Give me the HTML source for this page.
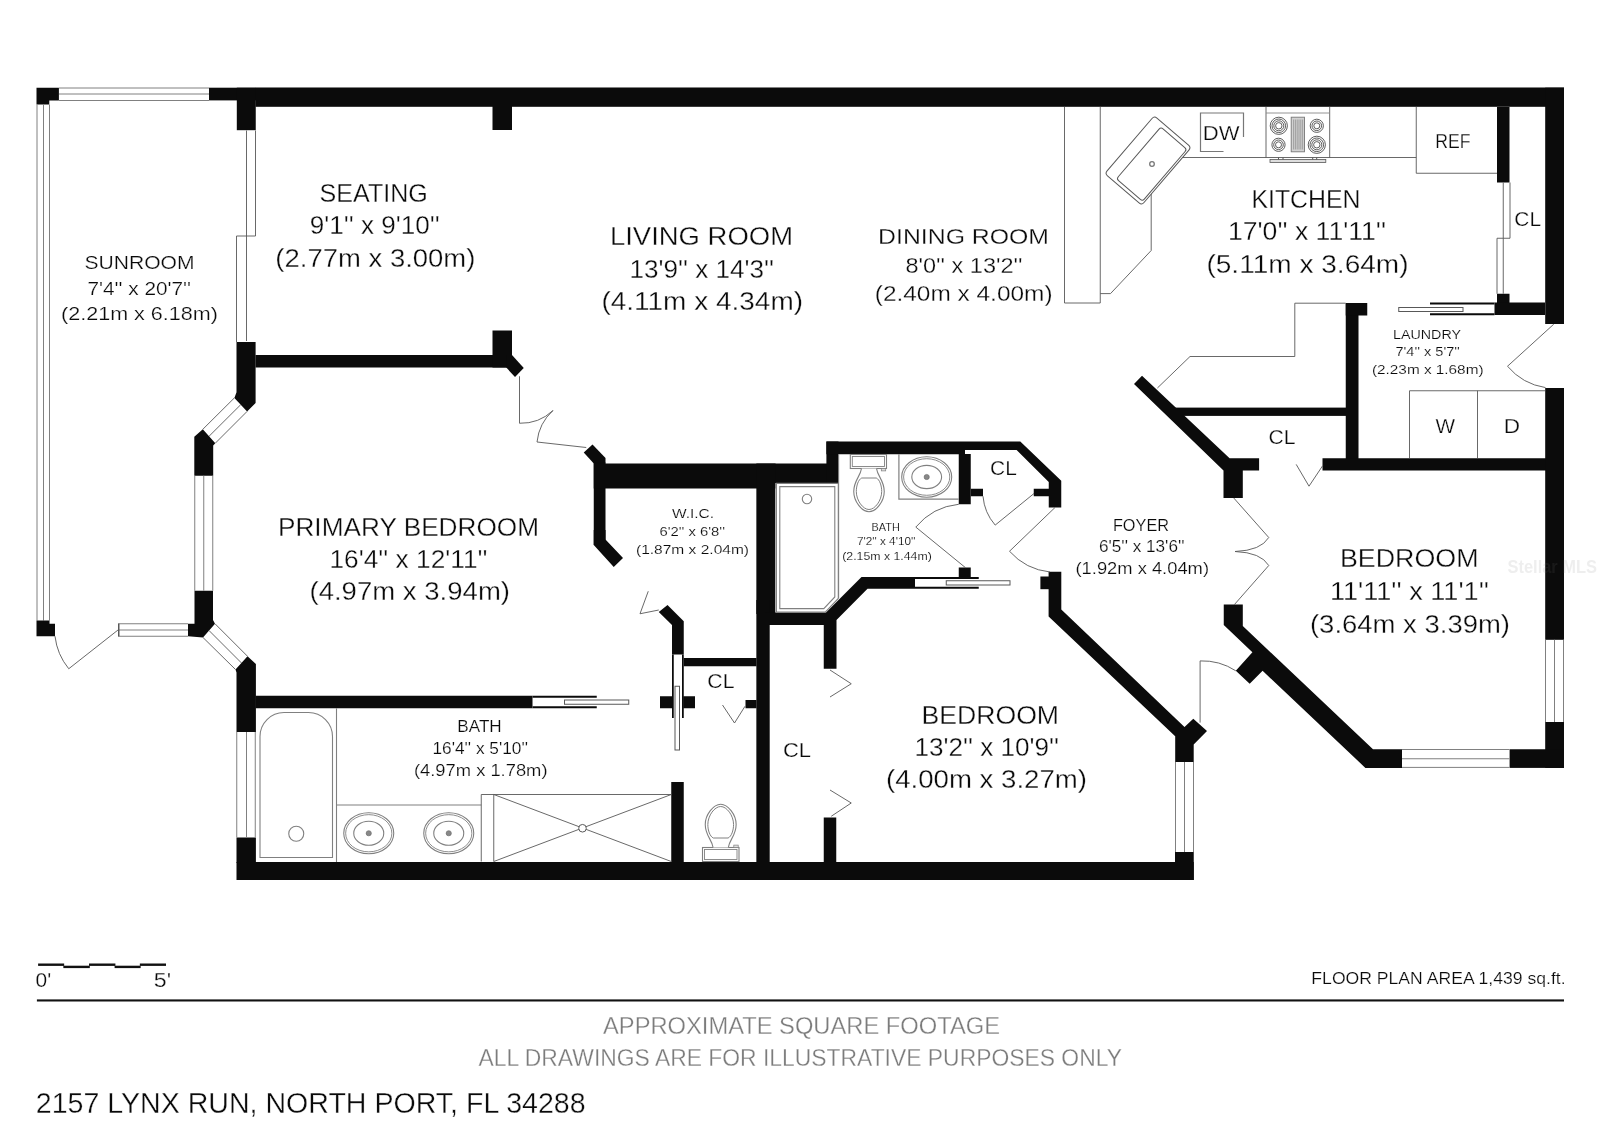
<!DOCTYPE html>
<html>
<head>
<meta charset="utf-8">
<title>Floor Plan - 2157 Lynx Run, North Port, FL 34288</title>
<style>
html, body { margin: 0; padding: 0; background: #fff; }
body { width: 1600px; height: 1130px; overflow: hidden; font-family: "Liberation Sans", sans-serif; }
svg { display: block; filter: grayscale(1); }
svg text { font-family: "Liberation Sans", sans-serif; }
</style>
</head>
<body>
<svg width="1600" height="1130" viewBox="0 0 1600 1130">
<rect x="0" y="0" width="1600" height="1130" fill="#ffffff"/>
<polygon points="36.50,87.70 58.90,87.70 58.90,100.50 49.30,100.50 49.30,104.50 36.50,104.50" fill="#0b0b0b" />
<line x1="59.00" y1="88.00" x2="209.00" y2="88.00" stroke="#808080" stroke-width="1"/>
<line x1="59.00" y1="94.00" x2="209.00" y2="94.00" stroke="#808080" stroke-width="1"/>
<line x1="59.00" y1="100.50" x2="209.00" y2="100.50" stroke="#808080" stroke-width="1"/>
<line x1="37.00" y1="104.50" x2="37.00" y2="620.50" stroke="#808080" stroke-width="1"/>
<line x1="43.50" y1="104.50" x2="43.50" y2="620.50" stroke="#808080" stroke-width="1"/>
<line x1="49.50" y1="104.50" x2="49.50" y2="620.50" stroke="#808080" stroke-width="1"/>
<polygon points="36.50,620.50 49.50,620.50 49.50,623.75 55.00,623.75 55.00,636.25 36.50,636.25" fill="#0b0b0b" />
<line x1="118.00" y1="623.75" x2="188.00" y2="623.75" stroke="#808080" stroke-width="1"/>
<line x1="118.00" y1="630.00" x2="188.00" y2="630.00" stroke="#808080" stroke-width="1"/>
<line x1="118.00" y1="636.25" x2="188.00" y2="636.25" stroke="#808080" stroke-width="1"/>
<rect x="118.00" y="623.75" width="1.50" height="12.50" fill="#585858" />
<line x1="118.00" y1="630.00" x2="68.75" y2="668.75" stroke="#585858" stroke-width="0.9"/>
<path d="M68.75,668.75 A62.67,62.67 0 0 1 55.00,636.25" fill="none" stroke="#585858" stroke-width="0.9"/>
<rect x="209.00" y="87.70" width="1355.00" height="12.70" fill="#0b0b0b" />
<rect x="236.80" y="87.70" width="18.95" height="42.50" fill="#0b0b0b" />
<rect x="255.50" y="87.70" width="1308.50" height="19.10" fill="#0b0b0b" />
<rect x="492.50" y="106.00" width="19.50" height="24.00" fill="#0b0b0b" />
<polyline points="246.50,130.50 246.50,341.00" fill="none" stroke="#585858" stroke-width="0.9" stroke-linejoin="miter"/>
<polyline points="255.50,130.50 255.50,236.00 246.50,236.00" fill="none" stroke="#585858" stroke-width="0.9" stroke-linejoin="miter"/>
<polyline points="246.50,236.00 236.50,236.00 236.50,342.00" fill="none" stroke="#585858" stroke-width="0.9" stroke-linejoin="miter"/>
<rect x="1545.20" y="87.70" width="18.80" height="236.30" fill="#0b0b0b" />
<rect x="1497.00" y="107.00" width="12.50" height="75.50" fill="#0b0b0b" />
<rect x="1497.00" y="293.75" width="12.50" height="10.25" fill="#0b0b0b" />
<rect x="1494.50" y="302.50" width="50.50" height="12.50" fill="#0b0b0b" />
<polyline points="1510.00,182.50 1510.00,238.25 1503.25,238.25" fill="none" stroke="#585858" stroke-width="0.9" stroke-linejoin="miter"/>
<polyline points="1503.25,182.50 1503.25,293.75" fill="none" stroke="#585858" stroke-width="0.9" stroke-linejoin="miter"/>
<polyline points="1503.25,238.25 1497.00,238.25 1497.00,293.75" fill="none" stroke="#585858" stroke-width="0.9" stroke-linejoin="miter"/>
<rect x="1430.00" y="302.50" width="64.50" height="2.00" fill="#0b0b0b" />
<rect x="1430.00" y="313.25" width="64.50" height="2.00" fill="#0b0b0b" />
<rect x="1398.75" y="307.50" width="64.25" height="4.00" fill="#fff" stroke="#585858" stroke-width="1"/>
<rect x="1345.75" y="303.00" width="12.75" height="167.00" fill="#0b0b0b" />
<rect x="1345.75" y="303.00" width="21.50" height="12.50" fill="#0b0b0b" />
<rect x="1322.50" y="458.25" width="241.50" height="12.25" fill="#0b0b0b" />
<rect x="1545.20" y="388.00" width="18.80" height="251.80" fill="#0b0b0b" />
<line x1="1545.50" y1="639.80" x2="1545.50" y2="722.00" stroke="#808080" stroke-width="1"/>
<line x1="1554.50" y1="639.80" x2="1554.50" y2="722.00" stroke="#808080" stroke-width="1"/>
<line x1="1563.50" y1="639.80" x2="1563.50" y2="722.00" stroke="#808080" stroke-width="1"/>
<rect x="1545.20" y="722.00" width="18.80" height="45.90" fill="#0b0b0b" />
<rect x="1509.60" y="749.25" width="54.40" height="18.65" fill="#0b0b0b" />
<line x1="1402.00" y1="749.50" x2="1509.60" y2="749.50" stroke="#808080" stroke-width="1"/>
<line x1="1402.00" y1="758.75" x2="1509.60" y2="758.75" stroke="#808080" stroke-width="1"/>
<line x1="1402.00" y1="767.40" x2="1509.60" y2="767.40" stroke="#808080" stroke-width="1"/>
<rect x="1172.00" y="407.60" width="174.00" height="8.30" fill="#0b0b0b" />
<polygon points="1134.00,384.00 1142.00,375.85 1229.60,458.30 1259.10,458.30 1259.10,470.50 1242.80,470.50 1242.80,498.00 1223.50,498.00 1223.50,470.50" fill="#0b0b0b" />
<polygon points="1223.75,604.60 1242.80,604.60 1242.80,626.00 1373.00,749.25 1402.00,749.25 1402.00,767.90 1365.40,767.90 1262.60,670.80 1249.70,683.70 1235.80,670.80 1252.40,652.30 1223.75,625.00" fill="#0b0b0b" />
<polygon points="1048.60,571.70 1061.30,571.70 1061.30,609.60 1184.50,727.00 1193.30,718.70 1207.00,731.00 1193.70,744.60 1193.70,762.00 1175.20,762.00 1175.20,736.20 1048.60,616.50" fill="#0b0b0b" />
<rect x="1040.40" y="576.50" width="8.60" height="12.70" fill="#0b0b0b" />
<line x1="1175.50" y1="762.00" x2="1175.50" y2="852.00" stroke="#808080" stroke-width="1"/>
<line x1="1184.50" y1="762.00" x2="1184.50" y2="852.00" stroke="#808080" stroke-width="1"/>
<line x1="1193.50" y1="762.00" x2="1193.50" y2="852.00" stroke="#808080" stroke-width="1"/>
<rect x="1175.00" y="852.00" width="18.75" height="28.00" fill="#0b0b0b" />
<rect x="236.50" y="862.00" width="957.25" height="18.00" fill="#0b0b0b" />
<rect x="236.50" y="837.50" width="19.40" height="25.50" fill="#0b0b0b" />
<line x1="236.75" y1="732.00" x2="236.75" y2="837.50" stroke="#808080" stroke-width="1"/>
<line x1="246.50" y1="732.00" x2="246.50" y2="837.50" stroke="#808080" stroke-width="1"/>
<line x1="255.25" y1="732.00" x2="255.25" y2="837.50" stroke="#808080" stroke-width="1"/>
<polygon points="247.50,656.25 255.90,663.90 255.90,732.00 236.50,732.00 236.50,672.50 235.50,669.50" fill="#0b0b0b" />
<rect x="255.50" y="695.75" width="277.00" height="12.50" fill="#0b0b0b" />
<rect x="532.50" y="695.75" width="64.25" height="2.00" fill="#0b0b0b" />
<rect x="532.50" y="706.25" width="64.25" height="2.00" fill="#0b0b0b" />
<rect x="564.50" y="700.00" width="64.25" height="4.25" fill="#fff" stroke="#585858" stroke-width="1"/>
<polygon points="194.50,590.75 213.00,590.75 213.00,620.00 215.00,623.75 203.00,637.50 188.00,636.25 188.00,623.75 194.50,623.75" fill="#0b0b0b" />
<polygon points="202.80,429.30 215.30,443.20 213.20,445.50 213.20,475.75 194.30,475.75 194.30,436.80" fill="#0b0b0b" />
<polygon points="236.50,342.00 255.60,342.00 255.60,402.90 247.10,411.40 234.40,397.90 236.50,392.30" fill="#0b0b0b" />
<line x1="194.75" y1="475.75" x2="194.75" y2="590.75" stroke="#808080" stroke-width="1"/>
<line x1="203.75" y1="475.75" x2="203.75" y2="590.75" stroke="#808080" stroke-width="1"/>
<line x1="212.75" y1="475.75" x2="212.75" y2="590.75" stroke="#808080" stroke-width="1"/>
<line x1="234.40" y1="397.90" x2="202.80" y2="429.30" stroke="#585858" stroke-width="0.9"/>
<line x1="240.75" y1="404.65" x2="209.05" y2="436.25" stroke="#585858" stroke-width="0.9"/>
<line x1="247.10" y1="411.40" x2="215.30" y2="443.20" stroke="#585858" stroke-width="0.9"/>
<line x1="203.00" y1="637.50" x2="235.50" y2="669.50" stroke="#585858" stroke-width="0.9"/>
<line x1="209.00" y1="630.50" x2="241.50" y2="663.00" stroke="#585858" stroke-width="0.9"/>
<line x1="215.00" y1="623.75" x2="247.50" y2="656.25" stroke="#585858" stroke-width="0.9"/>
<rect x="255.50" y="355.00" width="251.00" height="12.50" fill="#0b0b0b" />
<rect x="492.50" y="330.50" width="19.50" height="37.00" fill="#0b0b0b" />
<polygon points="512.00,355.00 523.75,368.00 515.00,377.00 506.25,367.50 506.25,355.00" fill="#0b0b0b" />
<line x1="519.50" y1="376.25" x2="519.50" y2="423.25" stroke="#585858" stroke-width="0.9"/>
<path d="M519.50,423.25 A47.00,47.00 0 0 0 553.00,410.50" fill="none" stroke="#585858" stroke-width="0.9"/>
<line x1="586.25" y1="447.50" x2="537.00" y2="442.00" stroke="#585858" stroke-width="0.9"/>
<path d="M537.00,442.00 A49.56,49.56 0 0 1 553.00,410.50" fill="none" stroke="#585858" stroke-width="0.9"/>
<polygon points="583.75,452.50 592.50,444.50 605.50,458.00 605.50,463.50 593.75,463.50" fill="#0b0b0b" />
<rect x="593.75" y="462.50" width="11.75" height="82.50" fill="#0b0b0b" />
<polygon points="593.75,545.00 613.75,567.00 623.00,558.00 605.50,539.50 605.50,530.00 593.75,530.00" fill="#0b0b0b" />
<rect x="593.75" y="463.50" width="181.55" height="25.00" fill="#0b0b0b" />
<rect x="775.00" y="463.50" width="63.50" height="19.50" fill="#0b0b0b" />
<rect x="826.40" y="441.50" width="12.10" height="41.50" fill="#0b0b0b" />
<rect x="756.35" y="463.50" width="18.95" height="150.50" fill="#0b0b0b" />
<rect x="756.35" y="600.00" width="13.35" height="263.00" fill="#0b0b0b" />
<polygon points="826.40,441.60 1020.30,441.60 1061.25,480.80 1061.25,507.50 1048.75,507.50 1048.75,496.25 1033.75,496.25 1033.75,488.75 1048.75,488.75 1048.75,482.00 1016.60,450.00 965.00,450.00 965.00,454.25 826.40,454.25" fill="#0b0b0b" />
<rect x="958.75" y="454.00" width="12.00" height="50.25" fill="#0b0b0b" />
<rect x="970.75" y="488.75" width="12.25" height="7.50" fill="#0b0b0b" />
<polygon points="861.50,577.00 915.00,577.00 915.00,588.75 867.50,588.75 836.50,620.00 836.50,668.75 823.75,668.75 823.75,625.00 765.00,625.00 765.00,612.50 826.00,612.50" fill="#0b0b0b" />
<rect x="915.00" y="577.00" width="63.75" height="2.00" fill="#0b0b0b" />
<rect x="915.00" y="586.75" width="63.75" height="2.00" fill="#0b0b0b" />
<rect x="958.75" y="567.50" width="12.00" height="10.50" fill="#0b0b0b" />
<rect x="946.25" y="580.75" width="63.75" height="4.25" fill="#fff" stroke="#585858" stroke-width="1"/>
<rect x="823.75" y="817.50" width="12.50" height="45.50" fill="#0b0b0b" />
<polygon points="658.75,612.00 667.50,605.00 683.75,621.25 683.75,654.50 672.00,654.50 672.00,625.00" fill="#0b0b0b" />
<rect x="672.00" y="654.50" width="1.75" height="63.50" fill="#0b0b0b" />
<rect x="682.00" y="654.50" width="1.75" height="63.50" fill="#0b0b0b" />
<rect x="660.00" y="696.25" width="12.50" height="12.00" fill="#0b0b0b" />
<rect x="683.25" y="696.25" width="11.75" height="12.00" fill="#0b0b0b" />
<rect x="683.75" y="658.00" width="72.75" height="8.25" fill="#0b0b0b" />
<rect x="745.50" y="700.00" width="11.00" height="8.25" fill="#0b0b0b" />
<rect x="675.00" y="686.25" width="4.50" height="63.75" fill="#fff" stroke="#585858" stroke-width="1"/>
<rect x="671.25" y="782.00" width="12.50" height="81.00" fill="#0b0b0b" />
<polyline points="1064.50,107.00 1064.50,303.00 1100.25,303.00 1100.25,107.00" fill="none" stroke="#585858" stroke-width="0.9" stroke-linejoin="miter"/>
<polyline points="1100.25,293.60 1110.50,293.60 1151.20,250.50 1151.20,190.00" fill="none" stroke="#585858" stroke-width="0.9" stroke-linejoin="miter"/>
<line x1="1160.00" y1="157.50" x2="1416.25" y2="157.50" stroke="#585858" stroke-width="0.9"/>
<g transform="translate(1148,160.5) rotate(40.6)">
<rect x="-24.3" y="-38" width="48.6" height="76" rx="3.5" fill="#fff" stroke="#585858" stroke-width="1"/>
<rect x="-12" y="-33.8" width="34.3" height="68.3" rx="2.8" fill="#fff" stroke="#585858" stroke-width="1"/>
</g>
<circle cx="1152" cy="164" r="2.3" fill="#fff" stroke="#777" stroke-width="1.3"/>
<polyline points="1223.50,151.50 1200.50,151.50 1200.50,113.00 1243.50,113.00 1243.50,137.00" fill="none" stroke="#777" stroke-width="1.2" stroke-linejoin="miter"/>
<polyline points="1266.00,107.00 1266.00,157.50" fill="none" stroke="#585858" stroke-width="0.9" stroke-linejoin="miter"/>
<polyline points="1329.70,107.00 1329.70,157.50" fill="none" stroke="#585858" stroke-width="0.9" stroke-linejoin="miter"/>
<line x1="1266.00" y1="113.00" x2="1329.70" y2="113.00" stroke="#888" stroke-width="0.9"/>
<circle cx="1278.8" cy="125.8" r="8.60" fill="none" stroke="#555" stroke-width="0.95"/>
<circle cx="1278.8" cy="125.8" r="6.80" fill="none" stroke="#555" stroke-width="0.95"/>
<circle cx="1278.8" cy="125.8" r="5.00" fill="none" stroke="#555" stroke-width="0.95"/>
<circle cx="1278.8" cy="125.8" r="3.20" fill="none" stroke="#555" stroke-width="0.95"/>
<circle cx="1316.8" cy="125.8" r="6.60" fill="none" stroke="#555" stroke-width="0.95"/>
<circle cx="1316.8" cy="125.8" r="4.80" fill="none" stroke="#555" stroke-width="0.95"/>
<circle cx="1316.8" cy="125.8" r="3.00" fill="none" stroke="#555" stroke-width="0.95"/>
<circle cx="1278.5" cy="144.8" r="6.60" fill="none" stroke="#555" stroke-width="0.95"/>
<circle cx="1278.5" cy="144.8" r="4.80" fill="none" stroke="#555" stroke-width="0.95"/>
<circle cx="1278.5" cy="144.8" r="3.00" fill="none" stroke="#555" stroke-width="0.95"/>
<circle cx="1316.8" cy="144.8" r="8.60" fill="none" stroke="#555" stroke-width="0.95"/>
<circle cx="1316.8" cy="144.8" r="6.80" fill="none" stroke="#555" stroke-width="0.95"/>
<circle cx="1316.8" cy="144.8" r="5.00" fill="none" stroke="#555" stroke-width="0.95"/>
<circle cx="1316.8" cy="144.8" r="3.20" fill="none" stroke="#555" stroke-width="0.95"/>
<rect x="1291.20" y="117.20" width="13.30" height="34.60" fill="#d2d2d2" stroke="#777" stroke-width="0.9"/>
<line x1="1293.60" y1="119.50" x2="1293.60" y2="149.50" stroke="#8a8a8a" stroke-width="0.7"/>
<line x1="1295.40" y1="119.50" x2="1295.40" y2="149.50" stroke="#8a8a8a" stroke-width="0.7"/>
<line x1="1297.20" y1="119.50" x2="1297.20" y2="149.50" stroke="#8a8a8a" stroke-width="0.7"/>
<line x1="1299.00" y1="119.50" x2="1299.00" y2="149.50" stroke="#8a8a8a" stroke-width="0.7"/>
<line x1="1300.80" y1="119.50" x2="1300.80" y2="149.50" stroke="#8a8a8a" stroke-width="0.7"/>
<line x1="1302.60" y1="119.50" x2="1302.60" y2="149.50" stroke="#8a8a8a" stroke-width="0.7"/>
<rect x="1270.00" y="159.50" width="55.80" height="3.00" fill="#ddd" stroke="#585858" stroke-width="0.8"/>
<line x1="1278.50" y1="157.50" x2="1278.50" y2="159.50" stroke="#585858" stroke-width="1"/>
<line x1="1283.00" y1="157.50" x2="1283.00" y2="159.50" stroke="#585858" stroke-width="1"/>
<line x1="1312.70" y1="157.50" x2="1312.70" y2="159.50" stroke="#585858" stroke-width="1"/>
<line x1="1316.70" y1="157.50" x2="1316.70" y2="159.50" stroke="#585858" stroke-width="1"/>
<polyline points="1416.25,107.00 1416.25,173.25 1497.00,173.25" fill="none" stroke="#585858" stroke-width="0.9" stroke-linejoin="miter"/>
<polyline points="1345.60,303.20 1294.80,303.20 1294.80,356.50 1190.00,356.50 1157.40,388.00" fill="none" stroke="#585858" stroke-width="0.9" stroke-linejoin="miter"/>
<polyline points="1409.50,458.00 1409.50,390.75 1545.00,390.75" fill="none" stroke="#585858" stroke-width="0.9" stroke-linejoin="miter"/>
<line x1="1477.50" y1="390.75" x2="1477.50" y2="458.00" stroke="#585858" stroke-width="0.9"/>
<line x1="1553.75" y1="324.20" x2="1507.50" y2="366.25" stroke="#585858" stroke-width="0.9"/>
<path d="M1507.50,366.25 A62.51,62.51 0 0 0 1545.50,387.60" fill="none" stroke="#585858" stroke-width="0.9"/>
<polyline points="1296.20,464.40 1309.00,486.20 1322.60,465.80" fill="none" stroke="#585858" stroke-width="0.9" stroke-linejoin="miter"/>
<path d="M1233.75,498 L1268.75,537.5 Q1261,550.5 1235,551.5 Q1261,552.5 1268.75,565.5 L1234.2,604.8" fill="none" stroke="#585858" stroke-width="0.9"/>
<line x1="1200.10" y1="722.60" x2="1200.10" y2="660.90" stroke="#585858" stroke-width="0.9"/>
<path d="M1200.10,660.90 A61.70,61.70 0 0 1 1235.80,670.80" fill="none" stroke="#585858" stroke-width="0.9"/>
<line x1="1034.00" y1="493.50" x2="995.20" y2="525.10" stroke="#585858" stroke-width="0.9"/>
<path d="M995.20,525.10 A50.04,50.04 0 0 1 983.00,496.25" fill="none" stroke="#585858" stroke-width="0.9"/>
<line x1="965.50" y1="567.70" x2="915.80" y2="527.10" stroke="#585858" stroke-width="0.9"/>
<path d="M915.80,527.10 A64.18,64.18 0 0 1 958.75,504.25" fill="none" stroke="#585858" stroke-width="0.9"/>
<line x1="1055.00" y1="507.50" x2="1009.50" y2="551.25" stroke="#585858" stroke-width="0.9"/>
<path d="M1009.50,551.25 A63.12,63.12 0 0 0 1050.00,572.00" fill="none" stroke="#585858" stroke-width="0.9"/>
<polyline points="648.25,591.25 640.00,613.75 658.75,610.00" fill="none" stroke="#585858" stroke-width="0.9" stroke-linejoin="miter"/>
<polyline points="722.50,705.00 734.50,723.00 745.00,706.25" fill="none" stroke="#585858" stroke-width="0.9" stroke-linejoin="miter"/>
<polyline points="830.00,670.00 851.25,683.75 830.00,697.00" fill="none" stroke="#585858" stroke-width="0.9" stroke-linejoin="miter"/>
<polyline points="830.00,790.00 851.25,803.00 831.25,816.25" fill="none" stroke="#585858" stroke-width="0.9" stroke-linejoin="miter"/>
<polygon points="776.40,483.40 838.30,483.40 838.30,598.50 825.50,612.00 776.40,612.00" fill="#fff" stroke="#808080" stroke-width="1.1" stroke-linejoin="miter"/>
<polygon points="779.80,486.60 834.80,486.60 834.80,597.00 823.80,608.60 779.80,608.60" fill="#fff" stroke="#808080" stroke-width="1.1" stroke-linejoin="miter"/>
<line x1="838.60" y1="454.20" x2="838.60" y2="598.00" stroke="#808080" stroke-width="1.1"/>
<circle cx="807" cy="499" r="4.7" fill="#fff" stroke="#808080" stroke-width="1.1"/>
<rect x="850.30" y="454.50" width="36.20" height="14.00" fill="#fff" stroke="#808080" stroke-width="1.1"/>
<rect x="852.30" y="456.50" width="32.20" height="10.00" fill="#fff" stroke="#808080" stroke-width="0.9"/>
<rect x="881.30" y="468.50" width="4.40" height="2.40" fill="#ddd" stroke="#808080" stroke-width="0.7"/>
<g transform="translate(869.00,468.50) scale(1.0000,1.0000)">
<path d="M-7.5,0 C-8.6,8 -15.25,12 -15.25,23 C-15.25,33 -7,43.3 0,43.3 C7,43.3 15.25,33 15.25,23 C15.25,12 8.6,8 7.5,0" fill="#fff" stroke="#808080" stroke-width="1.1" vector-effect="non-scaling-stroke"/>
<path d="M-7.3,9.5 L7.3,9.5 C10.6,11 12.7,17 12.7,23 C12.7,32 6,41 0,41 C-6,41 -12.7,32 -12.7,23 C-12.7,17 -10.6,11 -7.3,9.5 Z" fill="#fff" stroke="#808080" stroke-width="1.0" vector-effect="non-scaling-stroke"/>
</g>
<rect x="702.50" y="847.50" width="36.50" height="14.00" fill="#fff" stroke="#808080" stroke-width="1.1"/>
<rect x="704.50" y="849.50" width="32.50" height="10.00" fill="#fff" stroke="#808080" stroke-width="0.9"/>
<rect x="733.80" y="845.10" width="4.40" height="2.40" fill="#ddd" stroke="#808080" stroke-width="0.7"/>
<g transform="translate(720.70,847.50) scale(1.0131,-1.0000)">
<path d="M-7.5,0 C-8.6,8 -15.25,12 -15.25,23 C-15.25,33 -7,43.3 0,43.3 C7,43.3 15.25,33 15.25,23 C15.25,12 8.6,8 7.5,0" fill="#fff" stroke="#808080" stroke-width="1.1" vector-effect="non-scaling-stroke"/>
<path d="M-7.3,9.5 L7.3,9.5 C10.6,11 12.7,17 12.7,23 C12.7,32 6,41 0,41 C-6,41 -12.7,32 -12.7,23 C-12.7,17 -10.6,11 -7.3,9.5 Z" fill="#fff" stroke="#808080" stroke-width="1.0" vector-effect="non-scaling-stroke"/>
</g>
<polyline points="898.90,454.20 898.90,499.10 958.75,499.10" fill="none" stroke="#808080" stroke-width="1.2" stroke-linejoin="miter"/>
<ellipse cx="926.7" cy="477" rx="25" ry="20.2" fill="#fff" stroke="#808080" stroke-width="1.1"/>
<ellipse cx="926.7" cy="477" rx="23.1" ry="18.3" fill="none" stroke="#808080" stroke-width="0.9"/>
<ellipse cx="926.7" cy="477" rx="14.9" ry="11.6" fill="none" stroke="#808080" stroke-width="1.1"/>
<circle cx="926.7" cy="477" r="2.6" fill="#888" stroke="#666" stroke-width="0.6"/>
<line x1="336.50" y1="708.25" x2="336.50" y2="862.00" stroke="#808080" stroke-width="1.1"/>
<path d="M260,857.5 L260,736.5 A24,24 0 0 1 284,712.5 L308.5,712.5 A24,24 0 0 1 332.5,736.5 L332.5,857.5 Z" fill="#fff" stroke="#808080" stroke-width="1.1"/>
<circle cx="296.25" cy="833.75" r="7.5" fill="#fff" stroke="#808080" stroke-width="1.1"/>
<line x1="336.25" y1="805.00" x2="481.25" y2="805.00" stroke="#808080" stroke-width="1.1"/>
<ellipse cx="368.75" cy="833.25" rx="25" ry="20.5" fill="#fff" stroke="#808080" stroke-width="1.1"/>
<ellipse cx="368.75" cy="833.25" rx="23.1" ry="18.6" fill="none" stroke="#808080" stroke-width="0.9"/>
<ellipse cx="368.75" cy="833.25" rx="15" ry="12" fill="none" stroke="#808080" stroke-width="1.1"/>
<circle cx="368.75" cy="833.25" r="2.6" fill="#888" stroke="#666" stroke-width="0.6"/>
<ellipse cx="448.75" cy="833.25" rx="25" ry="20.5" fill="#fff" stroke="#808080" stroke-width="1.1"/>
<ellipse cx="448.75" cy="833.25" rx="23.1" ry="18.6" fill="none" stroke="#808080" stroke-width="0.9"/>
<ellipse cx="448.75" cy="833.25" rx="15" ry="12" fill="none" stroke="#808080" stroke-width="1.1"/>
<circle cx="448.75" cy="833.25" r="2.6" fill="#888" stroke="#666" stroke-width="0.6"/>
<polyline points="481.25,861.50 481.25,794.50 671.25,794.50" fill="none" stroke="#585858" stroke-width="0.9" stroke-linejoin="miter"/>
<line x1="493.75" y1="794.50" x2="493.75" y2="861.50" stroke="#585858" stroke-width="0.9"/>
<line x1="493.75" y1="794.50" x2="671.25" y2="861.50" stroke="#585858" stroke-width="0.9"/>
<line x1="493.75" y1="861.50" x2="671.25" y2="794.50" stroke="#585858" stroke-width="0.9"/>
<circle cx="582.5" cy="828.25" r="3.8" fill="#fff" stroke="#585858" stroke-width="1"/>
<text x="84.45" y="269.20" font-size="18.9" fill="#0a0a0a" font-weight="normal" stroke="#fff" stroke-width="0.23" textLength="110.09" lengthAdjust="spacingAndGlyphs">SUNROOM</text>
<text x="87.47" y="294.50" font-size="18.9" fill="#0a0a0a" font-weight="normal" stroke="#fff" stroke-width="0.23" textLength="103.55" lengthAdjust="spacingAndGlyphs">7'4'' x 20'7''</text>
<text x="60.98" y="320.30" font-size="18.9" fill="#0a0a0a" font-weight="normal" stroke="#fff" stroke-width="0.23" textLength="157.04" lengthAdjust="spacingAndGlyphs">(2.21m x 6.18m)</text>
<text x="319.55" y="201.50" font-size="25.6" fill="#0a0a0a" font-weight="normal" stroke="#fff" stroke-width="0.31" textLength="108.29" lengthAdjust="spacingAndGlyphs">SEATING</text>
<text x="309.77" y="234.20" font-size="25.6" fill="#0a0a0a" font-weight="normal" stroke="#fff" stroke-width="0.31" textLength="129.85" lengthAdjust="spacingAndGlyphs">9'1'' x 9'10''</text>
<text x="275.38" y="266.90" font-size="25.6" fill="#0a0a0a" font-weight="normal" stroke="#fff" stroke-width="0.31" textLength="200.03" lengthAdjust="spacingAndGlyphs">(2.77m x 3.00m)</text>
<text x="609.95" y="245.00" font-size="25.6" fill="#0a0a0a" font-weight="normal" stroke="#fff" stroke-width="0.31" textLength="183.12" lengthAdjust="spacingAndGlyphs">LIVING ROOM</text>
<text x="629.46" y="277.50" font-size="25.6" fill="#0a0a0a" font-weight="normal" stroke="#fff" stroke-width="0.31" textLength="144.58" lengthAdjust="spacingAndGlyphs">13'9'' x 14'3''</text>
<text x="601.45" y="310.00" font-size="25.6" fill="#0a0a0a" font-weight="normal" stroke="#fff" stroke-width="0.31" textLength="201.59" lengthAdjust="spacingAndGlyphs">(4.11m x 4.34m)</text>
<text x="878.14" y="243.90" font-size="22.7" fill="#0a0a0a" font-weight="normal" stroke="#fff" stroke-width="0.27" textLength="170.89" lengthAdjust="spacingAndGlyphs">DINING ROOM</text>
<text x="905.49" y="272.60" font-size="22.7" fill="#0a0a0a" font-weight="normal" stroke="#fff" stroke-width="0.27" textLength="117.04" lengthAdjust="spacingAndGlyphs">8'0'' x 13'2''</text>
<text x="874.76" y="301.40" font-size="22.7" fill="#0a0a0a" font-weight="normal" stroke="#fff" stroke-width="0.27" textLength="177.77" lengthAdjust="spacingAndGlyphs">(2.40m x 4.00m)</text>
<text x="1251.41" y="208.00" font-size="25.6" fill="#0a0a0a" font-weight="normal" stroke="#fff" stroke-width="0.31" textLength="109.16" lengthAdjust="spacingAndGlyphs">KITCHEN</text>
<text x="1227.96" y="240.00" font-size="25.6" fill="#0a0a0a" font-weight="normal" stroke="#fff" stroke-width="0.31" textLength="158.06" lengthAdjust="spacingAndGlyphs">17'0'' x 11'11''</text>
<text x="1206.45" y="272.50" font-size="25.6" fill="#0a0a0a" font-weight="normal" stroke="#fff" stroke-width="0.31" textLength="202.10" lengthAdjust="spacingAndGlyphs">(5.11m x 3.64m)</text>
<text x="1392.97" y="338.60" font-size="13.6" fill="#0a0a0a" font-weight="normal" stroke="#fff" stroke-width="0.16" textLength="68.06" lengthAdjust="spacingAndGlyphs">LAUNDRY</text>
<text x="1395.49" y="356.20" font-size="13.6" fill="#0a0a0a" font-weight="normal" stroke="#fff" stroke-width="0.16" textLength="64.32" lengthAdjust="spacingAndGlyphs">7'4'' x 5'7''</text>
<text x="1371.98" y="374.00" font-size="13.6" fill="#0a0a0a" font-weight="normal" stroke="#fff" stroke-width="0.16" textLength="111.53" lengthAdjust="spacingAndGlyphs">(2.23m x 1.68m)</text>
<text x="277.97" y="535.50" font-size="25.6" fill="#0a0a0a" font-weight="normal" stroke="#fff" stroke-width="0.31" textLength="261.06" lengthAdjust="spacingAndGlyphs">PRIMARY BEDROOM</text>
<text x="329.47" y="567.50" font-size="25.6" fill="#0a0a0a" font-weight="normal" stroke="#fff" stroke-width="0.31" textLength="158.06" lengthAdjust="spacingAndGlyphs">16'4'' x 12'11''</text>
<text x="309.48" y="600.00" font-size="25.6" fill="#0a0a0a" font-weight="normal" stroke="#fff" stroke-width="0.31" textLength="200.55" lengthAdjust="spacingAndGlyphs">(4.97m x 3.94m)</text>
<text x="672.00" y="518.00" font-size="13.6" fill="#0a0a0a" font-weight="normal" stroke="#fff" stroke-width="0.16" textLength="42.06" lengthAdjust="spacingAndGlyphs">W.I.C.</text>
<text x="659.46" y="536.25" font-size="13.6" fill="#0a0a0a" font-weight="normal" stroke="#fff" stroke-width="0.16" textLength="65.55" lengthAdjust="spacingAndGlyphs">6'2'' x 6'8''</text>
<text x="635.97" y="554.25" font-size="13.6" fill="#0a0a0a" font-weight="normal" stroke="#fff" stroke-width="0.16" textLength="113.06" lengthAdjust="spacingAndGlyphs">(1.87m x 2.04m)</text>
<text x="871.52" y="531.30" font-size="11" fill="#0a0a0a" font-weight="normal" stroke="#fff" stroke-width="0.13" textLength="28.30" lengthAdjust="spacingAndGlyphs">BATH</text>
<text x="856.97" y="545.20" font-size="11" fill="#0a0a0a" font-weight="normal" stroke="#fff" stroke-width="0.13" textLength="58.45" lengthAdjust="spacingAndGlyphs">7'2'' x 4'10''</text>
<text x="842.19" y="560.00" font-size="11" fill="#0a0a0a" font-weight="normal" stroke="#fff" stroke-width="0.13" textLength="89.62" lengthAdjust="spacingAndGlyphs">(2.15m x 1.44m)</text>
<text x="1112.93" y="530.75" font-size="15.7" fill="#0a0a0a" font-weight="normal" stroke="#fff" stroke-width="0.19" textLength="56.12" lengthAdjust="spacingAndGlyphs">FOYER</text>
<text x="1098.99" y="552.00" font-size="15.7" fill="#0a0a0a" font-weight="normal" stroke="#fff" stroke-width="0.19" textLength="85.52" lengthAdjust="spacingAndGlyphs">6'5'' x 13'6''</text>
<text x="1075.49" y="573.75" font-size="15.7" fill="#0a0a0a" font-weight="normal" stroke="#fff" stroke-width="0.19" textLength="133.52" lengthAdjust="spacingAndGlyphs">(1.92m x 4.04m)</text>
<text x="1339.93" y="567.00" font-size="25.6" fill="#0a0a0a" font-weight="normal" stroke="#fff" stroke-width="0.31" textLength="138.64" lengthAdjust="spacingAndGlyphs">BEDROOM</text>
<text x="1329.95" y="600.00" font-size="25.6" fill="#0a0a0a" font-weight="normal" stroke="#fff" stroke-width="0.31" textLength="159.08" lengthAdjust="spacingAndGlyphs">11'11'' x 11'1''</text>
<text x="1309.96" y="632.50" font-size="25.6" fill="#0a0a0a" font-weight="normal" stroke="#fff" stroke-width="0.31" textLength="200.08" lengthAdjust="spacingAndGlyphs">(3.64m x 3.39m)</text>
<text x="921.44" y="723.75" font-size="25.6" fill="#0a0a0a" font-weight="normal" stroke="#fff" stroke-width="0.31" textLength="137.61" lengthAdjust="spacingAndGlyphs">BEDROOM</text>
<text x="914.46" y="755.50" font-size="25.6" fill="#0a0a0a" font-weight="normal" stroke="#fff" stroke-width="0.31" textLength="144.58" lengthAdjust="spacingAndGlyphs">13'2'' x 10'9''</text>
<text x="885.96" y="787.50" font-size="25.6" fill="#0a0a0a" font-weight="normal" stroke="#fff" stroke-width="0.31" textLength="201.08" lengthAdjust="spacingAndGlyphs">(4.00m x 3.27m)</text>
<text x="457.36" y="732.00" font-size="16" fill="#0a0a0a" font-weight="normal" stroke="#fff" stroke-width="0.19" textLength="44.34" lengthAdjust="spacingAndGlyphs">BATH</text>
<text x="432.48" y="754.25" font-size="16" fill="#0a0a0a" font-weight="normal" stroke="#fff" stroke-width="0.19" textLength="95.53" lengthAdjust="spacingAndGlyphs">16'4'' x 5'10''</text>
<text x="413.98" y="775.50" font-size="16" fill="#0a0a0a" font-weight="normal" stroke="#fff" stroke-width="0.19" textLength="133.54" lengthAdjust="spacingAndGlyphs">(4.97m x 1.78m)</text>
<text x="1514.34" y="225.50" font-size="20.5" fill="#0a0a0a" font-weight="normal" stroke="#fff" stroke-width="0.25" textLength="26.74" lengthAdjust="spacingAndGlyphs">CL</text>
<text x="1268.56" y="444.20" font-size="20.5" fill="#0a0a0a" font-weight="normal" stroke="#fff" stroke-width="0.25" textLength="27.09" lengthAdjust="spacingAndGlyphs">CL</text>
<text x="990.13" y="474.90" font-size="20.5" fill="#0a0a0a" font-weight="normal" stroke="#fff" stroke-width="0.25" textLength="26.74" lengthAdjust="spacingAndGlyphs">CL</text>
<text x="707.39" y="688.25" font-size="20.5" fill="#0a0a0a" font-weight="normal" stroke="#fff" stroke-width="0.25" textLength="27.17" lengthAdjust="spacingAndGlyphs">CL</text>
<text x="782.92" y="757.00" font-size="20.5" fill="#0a0a0a" font-weight="normal" stroke="#fff" stroke-width="0.25" textLength="28.17" lengthAdjust="spacingAndGlyphs">CL</text>
<text x="1202.86" y="140.00" font-size="20.5" fill="#0a0a0a" font-weight="normal" stroke="#fff" stroke-width="0.25" textLength="36.77" lengthAdjust="spacingAndGlyphs">DW</text>
<text x="1435.25" y="148.40" font-size="20.5" fill="#0a0a0a" font-weight="normal" stroke="#fff" stroke-width="0.25" textLength="35.21" lengthAdjust="spacingAndGlyphs">REF</text>
<text x="1435.44" y="433.00" font-size="20.5" fill="#0a0a0a" font-weight="normal" stroke="#fff" stroke-width="0.25" textLength="19.59" lengthAdjust="spacingAndGlyphs">W</text>
<text x="1503.75" y="433.00" font-size="20.5" fill="#0a0a0a" font-weight="normal" stroke="#fff" stroke-width="0.25" textLength="16.33" lengthAdjust="spacingAndGlyphs">D</text>
<rect x="38.10" y="963.50" width="26.05" height="2.40" fill="#111" />
<rect x="63.35" y="965.70" width="26.45" height="2.40" fill="#111" />
<rect x="89.00" y="963.50" width="26.40" height="2.40" fill="#111" />
<rect x="114.60" y="965.70" width="26.05" height="2.40" fill="#111" />
<rect x="139.85" y="963.50" width="26.15" height="2.40" fill="#111" />
<text x="35.64" y="986.90" font-size="20.5" fill="#0a0a0a" font-weight="normal" stroke="#fff" stroke-width="0.25" textLength="15.64" lengthAdjust="spacingAndGlyphs">0'</text>
<text x="153.84" y="986.90" font-size="20.5" fill="#0a0a0a" font-weight="normal" stroke="#fff" stroke-width="0.25" textLength="17.31" lengthAdjust="spacingAndGlyphs">5'</text>
<rect x="36.90" y="999.40" width="1527.10" height="2.10" fill="#111" />
<text x="1311.37" y="983.80" font-size="15.6" fill="#0a0a0a" font-weight="normal" stroke="#fff" stroke-width="0.19" textLength="254.25" lengthAdjust="spacingAndGlyphs">FLOOR PLAN AREA 1,439 sq.ft.</text>
<text x="603.00" y="1033.50" font-size="24.5" fill="#7c7c7c" font-weight="normal" stroke="#fff" stroke-width="0.29" textLength="397.00" lengthAdjust="spacingAndGlyphs">APPROXIMATE SQUARE FOOTAGE</text>
<text x="478.60" y="1065.50" font-size="24.5" fill="#7c7c7c" font-weight="normal" stroke="#fff" stroke-width="0.29" textLength="643.40" lengthAdjust="spacingAndGlyphs">ALL DRAWINGS ARE FOR ILLUSTRATIVE PURPOSES ONLY</text>
<text x="35.80" y="1113.00" font-size="28.8" fill="#0a0a0a" font-weight="normal" stroke="#fff" stroke-width="0.35" textLength="549.81" lengthAdjust="spacingAndGlyphs">2157 LYNX RUN, NORTH PORT, FL 34288</text>
<text x="1507.5" y="572.5" font-size="19" font-weight="bold" fill="rgba(120,120,120,0.13)" textLength="89.5" lengthAdjust="spacingAndGlyphs">Stellar MLS</text>
</svg>
</body>
</html>
